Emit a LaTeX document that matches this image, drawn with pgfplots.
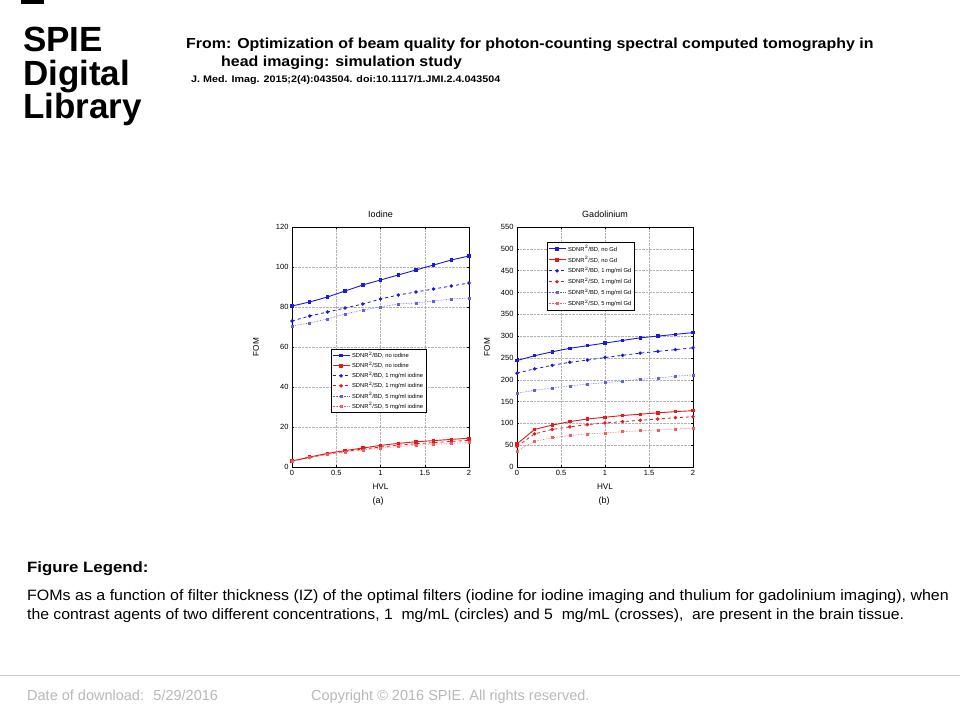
\documentclass[border=0pt]{standalone}
\usepackage{fontspec}
\setmainfont{Liberation Sans}
\usepackage{pgfplots}
\pgfplotsset{compat=1.18}

\definecolor{mblue}{RGB}{25,25,225}
\definecolor{mred}{RGB}{230,25,25}
\definecolor{lblue}{RGB}{95,95,240}
\definecolor{lred}{RGB}{240,95,95}
\definecolor{footgray}{RGB}{185,185,185}

\pgfplotsset{
  fom/.style={
    scale only axis, width=177pt, height=240pt,
    xmin=0, xmax=2, xtick={0,0.5,1,1.5,2},
    grid=major, grid style={densely dotted, gray!60, line width=0.3pt},
    axis line style={line width=0.4pt},
    tick style={black, line width=0.3pt}, tick align=inside,
    major tick length=2pt,
    tick label style={font=\fontsize{7.5}{8}\selectfont},
    /pgf/number format/assume math mode=true,
    title style={font=\fontsize{9}{10}\selectfont, at={(axis description cs:0.5,1.03)}, anchor=center},
    label style={font=\fontsize{8.2}{9}\selectfont},
    xlabel style={at={(axis description cs:0.5,-0.083)}, anchor=center},
    xlabel={HVL}, ylabel={FOM},
    legend cell align=left,
    legend style={font=\fontsize{5.8}{6}\selectfont, draw=black, line width=0.4pt,
      inner sep=1pt, row sep=-1.2pt, anchor=north west},
  },
  s1/.style={mblue, line width=0.9pt, mark=square*, mark size=1.2pt},
  s2/.style={mred, line width=0.9pt, mark=square*, mark size=1.2pt},
  s3/.style={mblue, line width=0.8pt, dashed, mark=*, mark size=1.3pt, mark options={solid}},
  s4/.style={mred, line width=0.8pt, dashed, mark=*, mark size=1.3pt, mark options={solid}},
  s5/.style={lblue, line width=0.6pt, densely dotted, mark=square*, mark size=1pt, mark options={solid}},
  s6/.style={lred, line width=0.6pt, densely dotted, mark=square*, mark size=1pt, mark options={solid}},
}

\begin{document}
\begin{tikzpicture}[x=1pt, y=1pt]
\path[use as bounding box, fill=white] (0,0) rectangle (960,720);

% slide header
\fill[black] (21,716) rectangle (44,720);
\begin{scope}[every node/.style={anchor=base west, inner sep=0pt,
    font=\fontsize{35}{35}\bfseries\selectfont}]
\node at (23,668) {SPIE};
\node at (23,634.5) {Digital};
\node at (23,601) {Library};
\end{scope}
\node[anchor=base west, inner sep=0pt, xscale=1.1, font=\fontsize{14.5}{16}\bfseries\selectfont] at (186,671) {From: Optimization of beam quality for photon-counting spectral computed tomography in};
\node[anchor=base west, inner sep=0pt, xscale=1.1, font=\fontsize{14.5}{16}\bfseries\selectfont] at (221,653) {head imaging: simulation study};
\node[anchor=base west, inner sep=0pt, xscale=1.13, font=\fontsize{9.5}{10}\bfseries\selectfont] at (191,637) {J. Med. Imag. 2015;2(4):043504. doi:10.1117/1.JMI.2.4.043504};

% left panel: iodine
\begin{axis}[fom, at={(292pt,253pt)}, anchor=south west,
  ymin=0, ymax=120, ytick={0,20,...,120}, title={Iodine},
  ylabel style={at={(axis description cs:-0.203,0.5)}, anchor=center},
  legend style={at={(0.22,0.492)}}]
\addplot[s1] coordinates {(0,80.5)(0.2,82.5)(0.4,85)(0.6,88)(0.8,91)(1,93.5)(1.2,96)(1.4,98.5)(1.6,101)(1.8,103.5)(2,105.5)};
\addlegendentry{SDNR$^2$/BD, no iodine}
\addplot[s2] coordinates {(0,3)(0.2,5)(0.4,6.8)(0.6,8.2)(0.8,9.5)(1,10.8)(1.2,11.8)(1.4,12.6)(1.6,13.2)(1.8,13.8)(2,14.4)};
\addlegendentry{SDNR$^2$/SD, no iodine}
\addplot[s3] coordinates {(0,73)(0.2,75.5)(0.4,77.5)(0.6,79.5)(0.8,81.5)(1,84)(1.2,86)(1.4,87.5)(1.6,89)(1.8,90.5)(2,92)};
\addlegendentry{SDNR$^2$/BD, 1 mg/ml iodine}
\addplot[s4] coordinates {(0,2.9)(0.2,4.8)(0.4,6.5)(0.6,7.8)(0.8,9)(1,10)(1.2,10.9)(1.4,11.6)(1.6,12.2)(1.8,12.8)(2,13.3)};
\addlegendentry{SDNR$^2$/SD, 1 mg/ml iodine}
\addplot[s5] coordinates {(0,70.5)(0.2,72)(0.4,74)(0.6,76.5)(0.8,78.5)(1,80)(1.2,81.5)(1.4,82)(1.6,83)(1.8,84)(2,84.5)};
\addlegendentry{SDNR$^2$/BD, 5 mg/ml iodine}
\addplot[s6] coordinates {(0,2.8)(0.2,4.6)(0.4,6.3)(0.6,7.5)(0.8,8.5)(1,9.4)(1.2,10.2)(1.4,10.8)(1.6,11.3)(1.8,11.8)(2,12.2)};
\addlegendentry{SDNR$^2$/SD, 5 mg/ml iodine}
\end{axis}

% right panel: gadolinium
\begin{axis}[fom, at={(517pt,253pt)}, anchor=south west, width=176pt,
  ymin=0, ymax=550, ytick={0,50,...,550}, title={Gadolinium},
  ylabel style={at={(axis description cs:-0.17,0.5)}, anchor=center},
  legend style={at={(0.17,0.937)}, row sep=-0.3pt}]
\addplot[s1] coordinates {(0,244)(0.2,255)(0.4,264)(0.6,272)(0.8,278)(1,284)(1.2,290)(1.4,296)(1.6,300)(1.8,304)(2,308)};
\addlegendentry{SDNR$^2$/BD, no Gd}
\addplot[s2] coordinates {(0,53)(0.2,86)(0.4,96)(0.6,104)(0.8,110)(1,114)(1.2,118)(1.4,121)(1.6,124)(1.8,127)(2,129)};
\addlegendentry{SDNR$^2$/SD, no Gd}
\addplot[s3] coordinates {(0,215)(0.2,225)(0.4,233)(0.6,240)(0.8,245)(1,251)(1.2,256)(1.4,261)(1.6,265)(1.8,269)(2,273)};
\addlegendentry{SDNR$^2$/BD, 1 mg/ml Gd}
\addplot[s4] coordinates {(0,47)(0.2,76)(0.4,86)(0.6,92)(0.8,97)(1,101)(1.2,104)(1.4,107)(1.6,110)(1.8,113)(2,115)};
\addlegendentry{SDNR$^2$/SD, 1 mg/ml Gd}
\addplot[s5] coordinates {(0,169)(0.2,176)(0.4,181)(0.6,186)(0.8,190)(1,193)(1.2,197)(1.4,201)(1.6,204)(1.8,208)(2,211)};
\addlegendentry{SDNR$^2$/BD, 5 mg/ml Gd}
\addplot[s6] coordinates {(0,37)(0.2,59)(0.4,67)(0.6,72)(0.8,76)(1,78)(1.2,81)(1.4,83)(1.6,85)(1.8,87)(2,89)};
\addlegendentry{SDNR$^2$/SD, 5 mg/ml Gd}
\end{axis}

\node[font=\fontsize{9}{10}\selectfont] at (378,219) {(a)};
\node[font=\fontsize{9}{10}\selectfont] at (604,219) {(b)};

% caption
\node[anchor=base west, inner sep=0pt, xscale=1.12, font=\fontsize{15}{16}\bfseries\selectfont] at (27,147) {Figure Legend:};
\node[anchor=base west, inner sep=0pt, xscale=1.065, font=\fontsize{15}{16}\selectfont] at (27,120) {FOMs as a function of filter thickness (IZ) of the optimal filters (iodine for iodine imaging and thulium for gadolinium imaging), when};
\node[anchor=base west, inner sep=0pt, xscale=1.05, font=\fontsize{15}{16}\selectfont] at (27,101) {the contrast agents of two different concentrations, 1~ mg/mL (circles) and 5~ mg/mL (crosses), ~are present in the brain tissue.};

% footer
\draw[footgray!80, line width=0.8pt] (0,45) -- (960,45);
\node[anchor=base west, inner sep=0pt, font=\fontsize{14.5}{16}\selectfont, text=footgray] at (27,20) {Date of download: ~5/29/2016};
\node[anchor=base west, inner sep=0pt, font=\fontsize{14.5}{16}\selectfont, text=footgray] at (311,20) {Copyright © 2016 SPIE. All rights reserved.};
\end{tikzpicture}
\end{document}
